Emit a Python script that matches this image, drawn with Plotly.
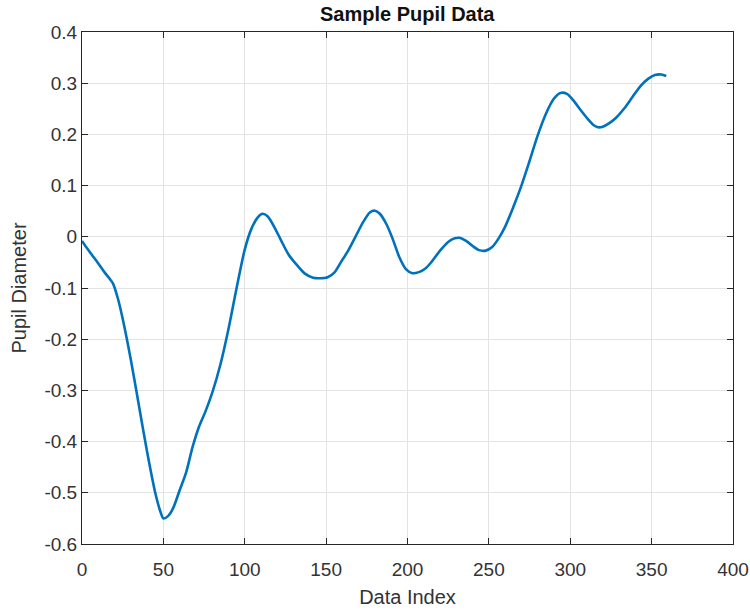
import plotly.graph_objects as go

x_idx = [0, 3, 6, 10, 14, 17, 19, 22, 25, 30, 35, 40, 45, 48, 50, 53, 56, 60, 64, 68, 72, 76, 80, 85, 90, 95, 100,
         104, 108, 111, 114, 118, 122, 127, 132, 137, 142, 146, 151, 155, 159, 163, 168, 173, 177, 180, 183,
         187, 191, 195, 199, 203, 207, 211, 215, 220, 225, 229, 232, 236, 240, 244, 248, 252, 256, 260, 265,
         270, 275, 280, 285, 290, 294, 298, 302, 306, 310, 314, 317, 320, 324, 328, 333, 338, 343, 348, 352, 356, 359]
pupil = [-0.008, -0.022, -0.035, -0.052, -0.07, -0.082, -0.091, -0.12, -0.16, -0.24, -0.33, -0.42, -0.50, -0.535,
         -0.55, -0.545, -0.53, -0.495, -0.46, -0.41, -0.37, -0.34, -0.305, -0.25, -0.18, -0.10, -0.025,
         0.015, 0.038, 0.045, 0.04, 0.02, -0.005, -0.035, -0.055, -0.072, -0.08, -0.081, -0.079, -0.07, -0.05,
         -0.03, 0.0, 0.03, 0.048, 0.051, 0.045, 0.025, -0.005, -0.04, -0.063, -0.071, -0.069, -0.062, -0.048,
         -0.027, -0.01, -0.003, -0.002, -0.008, -0.018, -0.026, -0.027, -0.02, -0.003, 0.02, 0.058,
         0.10, 0.148, 0.198, 0.24, 0.27, 0.281, 0.279, 0.266, 0.249, 0.233, 0.219, 0.214, 0.215, 0.222,
         0.232, 0.25, 0.272, 0.294, 0.309, 0.316, 0.317, 0.314]

x_ticks = [0, 50, 100, 150, 200, 250, 300, 350, 400]
y_ticks = [0.4, 0.3, 0.2, 0.1, 0, -0.1, -0.2, -0.3, -0.4, -0.5, -0.6]
y_tick_text = ["0.4", "0.3", "0.2", "0.1", "0", "-0.1", "-0.2", "-0.3", "-0.4", "-0.5", "-0.6"]

FONT = "Liberation Sans, Arial, sans-serif"

fig = go.Figure()
fig.add_trace(go.Scatter(x=x_idx, y=pupil, mode="lines",
                         line=dict(color="#0072BD", width=2.6, shape="spline", smoothing=0.8)))

axis_common = dict(showline=True, linecolor="#262626", linewidth=1, mirror="allticks",
                   ticks="inside", ticklen=6, tickcolor="#262626", tickwidth=1,
                   showgrid=True, gridcolor="#e3e3e3", gridwidth=1, zeroline=False,
                   automargin=False,
                   tickfont=dict(family=FONT, size=19, color="#333333"))

fig.update_layout(
    width=750, height=610,
    margin=dict(l=82, r=17, t=32, b=66),
    paper_bgcolor="white", plot_bgcolor="white",
    showlegend=False,
    title=dict(text="<b>Sample Pupil Data</b>", x=0.543, xanchor="center", y=0.977, yanchor="middle",
               font=dict(family=FONT, size=20, color="#111111")),
    xaxis=dict(range=[0, 400], tickvals=x_ticks, ticktext=[str(v) for v in x_ticks],
               ticklabelstandoff=8,
               title=dict(text="Data Index", standoff=11,
                          font=dict(family=FONT, size=20, color="#333333")),
               **axis_common),
    yaxis=dict(range=[-0.6, 0.4], tickvals=y_ticks, ticktext=y_tick_text,
               title=dict(text="Pupil Diameter", standoff=12,
                          font=dict(family=FONT, size=20, color="#333333")),
               **axis_common),
)

fig.write_html("out.html")
